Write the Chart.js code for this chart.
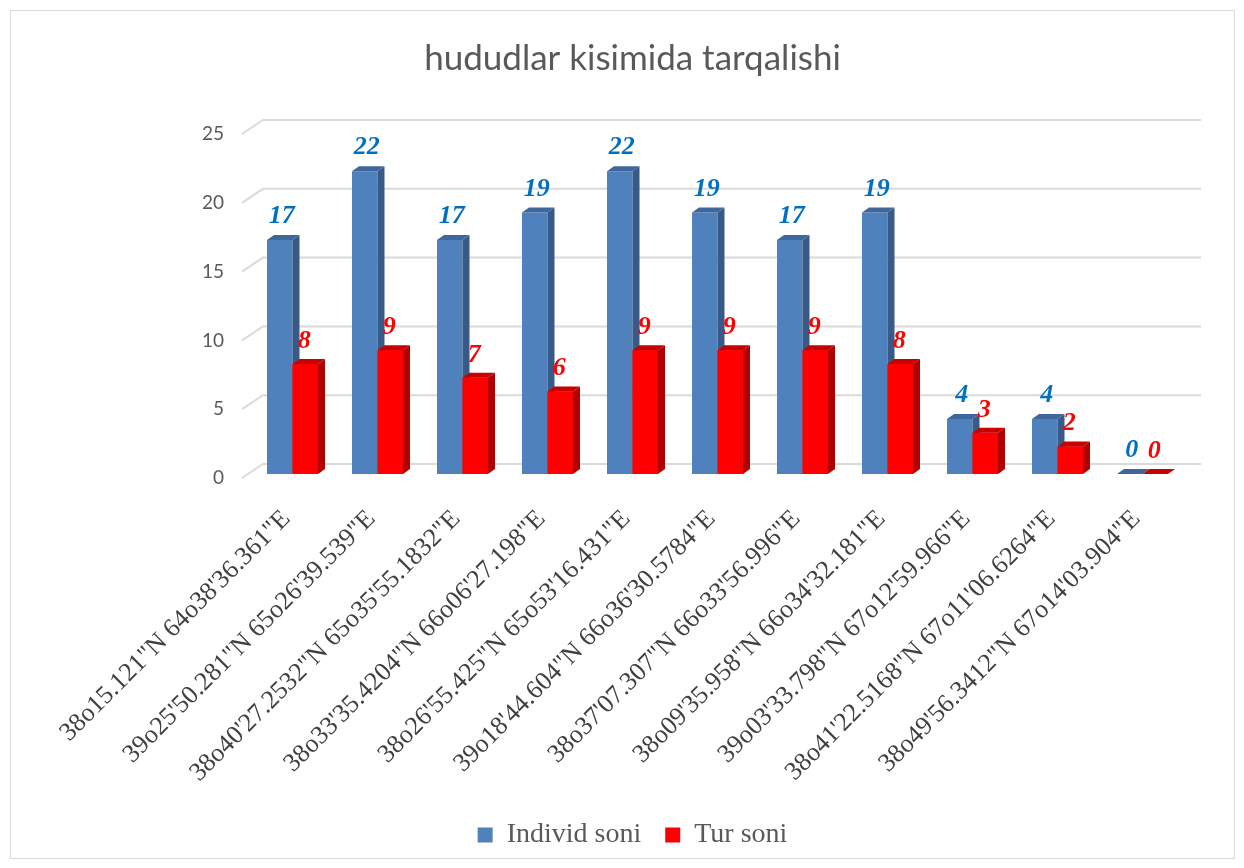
<!DOCTYPE html>
<html>
<head>
<meta charset="utf-8">
<title>hududlar kisimida tarqalishi</title>
<script src="https://cdn.jsdelivr.net/npm/chart.js@4/dist/chart.umd.min.js"></script>
<style>
  body { margin: 0; background: #fff; }
  #wrap { position: relative; width: 1244px; height: 868px; }
</style>
</head>
<body>
<div id="wrap"><canvas id="chart" width="1244" height="868"></canvas></div>
<script>
// data
const categories = [
    '38o15.121"N 64o38\'36.361"E',
    '39o25\'50.281"N 65o26\'39.539"E',
    '38o40\'27.2532"N 65o35\'55.1832"E',
    '38o33\'35.4204"N 66o06\'27.198"E',
    '38o26\'55.425"N 65o53\'16.431"E',
    '39o18\'44.604"N 66o36\'30.5784"E',
    '38o37\'07.307"N 66o33\'56.996"E',
    '38o09\'35.958"N 66o34\'32.181"E',
    '39o03\'33.798"N 67o12\'59.966"E',
    '38o41\'22.5168"N 67o11\'06.6264"E',
    '38o49\'56.3412"N 67o14\'03.904"E'
];
const individSoni = [17, 22, 17, 19, 22, 19, 17, 19, 4, 4, 0];
const turSoni = [8, 9, 7, 6, 9, 9, 9, 8, 3, 2, 0];
const yTicks = [0, 5, 10, 15, 20, 25];

const DX = 7, DY = -5; // fake 3d depth of the columns

// slanted floor/wall gridlines + 3d faces + value labels
const fake3d = {
    id: 'fake3d',
    beforeDraw(chart) {
        const ctx = chart.ctx;
        ctx.save();
        ctx.strokeStyle = '#d9d9d9';
        ctx.lineWidth = 1;
        ctx.strokeRect(10.5, 10.5, 1224, 848);
        ctx.restore();
    },
    beforeDatasetsDraw(chart) {
        const ctx = chart.ctx;
        const area = chart.chartArea;
        const y = chart.scales.y;
        ctx.save();
        ctx.strokeStyle = '#dadada';
        ctx.lineWidth = 2;
        yTicks.forEach(v => {
            const py = y.getPixelForValue(v);
            ctx.beginPath();
            ctx.moveTo(area.left - 8, py + 4);
            ctx.lineTo(area.left + 13, py - 10);
            ctx.lineTo(area.right + 16, py - 10);
            ctx.stroke();
        });
        ctx.restore();
    },
    afterDatasetsDraw(chart) {
        const ctx = chart.ctx;
        const blue = chart.getDatasetMeta(0).data;
        const red = chart.getDatasetMeta(1).data;

        function faces(el, side, top) {
            const x0 = el.x - el.width / 2, x1 = el.x + el.width / 2;
            ctx.fillStyle = side;
            ctx.beginPath();
            ctx.moveTo(x1, el.y);
            ctx.lineTo(x1 + DX, el.y + DY);
            ctx.lineTo(x1 + DX, el.base + DY);
            ctx.lineTo(x1, el.base);
            ctx.closePath();
            ctx.fill();
            ctx.fillStyle = top;
            ctx.beginPath();
            ctx.moveTo(x0, el.y);
            ctx.lineTo(x0 + DX, el.y + DY);
            ctx.lineTo(x1 + DX, el.y + DY);
            ctx.lineTo(x1, el.y);
            ctx.closePath();
            ctx.fill();
        }

        ctx.save();
        for (let i = 0; i < blue.length; i++) {
            faces(blue[i], '#375a87', '#3f679b');
            // red front sits in front of blue side, paint it again
            const r = red[i];
            ctx.fillStyle = '#ff0000';
            ctx.fillRect(r.x - r.width / 2, r.y, r.width, r.base - r.y);
            faces(r, '#b00000', '#c80000');
        }

        ctx.font = 'italic bold 26px "Liberation Serif", "DejaVu Serif", serif';
        ctx.textAlign = 'center';
        ctx.textBaseline = 'alphabetic';
        blue.forEach((el, i) => {
            ctx.fillStyle = '#0070c0';
            ctx.fillText(individSoni[i], el.x + 2, el.y - 17);
        });
        red.forEach((el, i) => {
            ctx.fillStyle = '#ff0000';
            ctx.fillText(turSoni[i], el.x - 1, el.y - 16);
        });
        ctx.restore();
    }
};

document.addEventListener('DOMContentLoaded', function () {
    var ctx = document.getElementById('chart').getContext('2d');
    var chart = new Chart(ctx, {
        type: 'bar',
        data: {
            labels: categories,
            datasets: [{
                label: 'Individ soni',
                data: individSoni,
                backgroundColor: '#4f81bd',
                borderWidth: 0
            }, {
                label: 'Tur soni',
                data: turSoni,
                backgroundColor: '#ff0000',
                borderWidth: 0
            }]
        },
        options: {
            responsive: false,
            animation: false,
            layout: { padding: { left: 80, right: 59, top: 38, bottom: 9 } },
            datasets: {
                bar: { categoryPercentage: 0.6, barPercentage: 1.0 }
            },
            scales: {
                x: {
                    afterFit: function (scale) { scale.height = 323; },
                    grid: { display: false, drawTicks: false },
                    border: { display: false },
                    ticks: {
                        autoSkip: false,
                        minRotation: 45,
                        maxRotation: 45,
                        padding: 30,
                        labelOffset: -6,
                        color: '#404040',
                        font: { family: '"Liberation Serif", "DejaVu Serif", serif', size: 26 }
                    }
                },
                y: {
                    min: 0,
                    max: 25,
                    afterFit: function (scale) { scale.width = 170; },
                    grid: { display: false, drawTicks: false },
                    border: { display: false },
                    ticks: {
                        stepSize: 5,
                        padding: 26,
                        labelOffset: 4,
                        color: '#595959',
                        font: { family: 'Lato, "Open Sans", sans-serif', size: 19 }
                    }
                }
            },
            plugins: {
                title: {
                    display: true,
                    text: 'hududlar kisimida tarqalishi',
                    color: '#595959',
                    font: { family: 'Lato, "Open Sans", sans-serif', size: 35, weight: 'normal' },
                    padding: { top: 0, bottom: 50 }
                },
                legend: {
                    position: 'bottom',
                    labels: {
                        boxWidth: 15,
                        boxHeight: 15,
                        padding: 24,
                        color: '#595959',
                        font: { family: '"Liberation Serif", "DejaVu Serif", serif', size: 28 }
                    }
                },
                tooltip: { enabled: false }
            }
        },
        plugins: [fake3d]
    });
});
</script>
</body>
</html>
